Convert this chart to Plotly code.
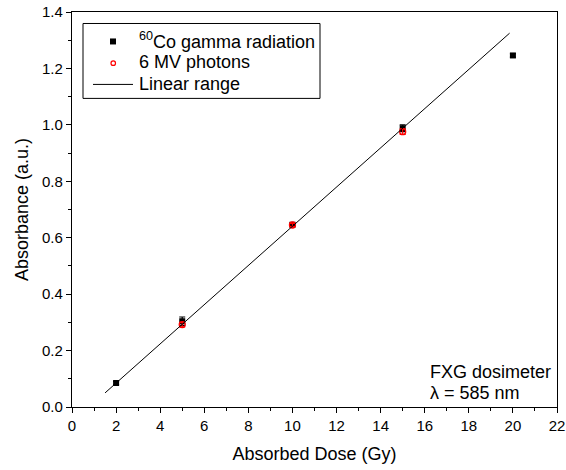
import plotly.graph_objects as go

co_dose = [2, 5, 10, 15, 20]
co_abs = [0.085, 0.304, 0.646, 0.988, 1.246]
co_err = [0.006, 0.015, 0.005, 0.012, 0.006]

mv_dose = [5, 10, 15]
mv_abs = [0.292, 0.645, 0.976]
mv_err = [0.008, 0.006, 0.010]

fit_dose = [1.5, 19.85]
fit_abs = [0.050, 1.325]

legend_labels = ["<sup>60</sup>Co gamma radiation", "6 MV photons", "Linear range"]

FONT = "Liberation Sans, Arial, sans-serif"

W, H = 566, 470
ML, MR, MT, MB = 72, 9, 11.5, 63
PW, PH = W - ML - MR, H - MT - MB


def px(x):
    return (x - ML) / PW


def py(y):
    return 1 - (y - MT) / PH


fig = go.Figure()
fig.add_trace(go.Scatter(
    x=co_dose, y=co_abs, mode="markers", name=legend_labels[0],
    marker=dict(symbol="square", size=6, color="black"),
    error_y=dict(type="data", array=co_err, color="black", thickness=1.2, width=3),
))
fig.add_trace(go.Scatter(
    x=mv_dose, y=mv_abs, mode="markers", name=legend_labels[1],
    marker=dict(symbol="circle-open", size=6, color="red", line=dict(width=1.3, color="red")),
    error_y=dict(type="data", array=mv_err, color="red", thickness=1.2, width=3),
))
fig.add_trace(go.Scatter(
    x=fit_dose, y=fit_abs, mode="lines", name=legend_labels[2],
    line=dict(color="black", width=1),
))

# annotations in the lower right
fig.add_annotation(x=16.15, y=0.124, xref="x", yref="y", text="FXG dosimeter",
                   showarrow=False, xanchor="left", yanchor="middle",
                   font=dict(family=FONT, size=18, color="black"))
fig.add_annotation(x=16.15, y=0.05, xref="x", yref="y", text="λ = 585 nm",
                   showarrow=False, xanchor="left", yanchor="middle",
                   font=dict(family=FONT, size=18, color="black"))

# hand-built legend box
shapes = [
    dict(type="rect", xref="paper", yref="paper", x0=px(83), x1=px(320), y0=py(98), y1=py(23),
         line=dict(color="black", width=1), fillcolor="white", layer="above"),
    dict(type="rect", xref="paper", yref="paper", x0=px(110), x1=px(116), y0=py(44), y1=py(38),
         line=dict(color="black", width=0), fillcolor="black", layer="above"),
    dict(type="circle", xref="paper", yref="paper", x0=px(111), x1=px(115.5), y0=py(65), y1=py(60.5),
         line=dict(color="red", width=1.2), fillcolor="white", layer="above"),
    dict(type="line", xref="paper", yref="paper", x0=px(93), x1=px(133), y0=py(84), y1=py(84),
         line=dict(color="black", width=1), layer="above"),
]
for lbl, yy in zip(legend_labels, [40, 62, 84]):
    fig.add_annotation(x=px(137), y=py(yy), xref="paper", yref="paper", text=lbl,
                       showarrow=False, xanchor="left", yanchor="middle",
                       font=dict(family=FONT, size=18, color="black"))

axis_common = dict(
    showline=True, linecolor="black", linewidth=1.2, mirror=True,
    ticks="outside", ticklen=5, tickwidth=1, tickcolor="black",
    showgrid=False, zeroline=False, automargin=False, ticklabeloverflow="allow",
    tickfont=dict(family=FONT, size=15, color="black"),
)
fig.update_xaxes(
    range=[0, 22], tickmode="array", tickvals=list(range(0, 23, 2)),
    minor=dict(ticks="outside", ticklen=3, tickwidth=1, tickcolor="black", dtick=1, tick0=0, showgrid=False),
    title=dict(text="Absorbed Dose (Gy)", font=dict(family=FONT, size=18, color="black"), standoff=14),
    **axis_common,
)
fig.update_yaxes(
    range=[0, 1.4], tickmode="array", tickvals=[0, 0.2, 0.4, 0.6, 0.8, 1.0, 1.2, 1.4],
    ticktext=["0.0", "0.2", "0.4", "0.6", "0.8", "1.0", "1.2", "1.4"],
    minor=dict(ticks="outside", ticklen=3, tickwidth=1, tickcolor="black", dtick=0.1, tick0=0, showgrid=False),
    title=dict(text="Absorbance (a.u.)", font=dict(family=FONT, size=18, color="black"), standoff=8),
    **axis_common,
)

fig.update_layout(
    width=W, height=H,
    margin=dict(l=ML, r=MR, t=MT, b=MB),
    plot_bgcolor="white", paper_bgcolor="white",
    font=dict(family=FONT, color="black"),
    shapes=shapes,
    showlegend=False,
)

fig.write_html("out.html", config={"displayModeBar": False},
               post_script="document.body.style.margin='0px';")
